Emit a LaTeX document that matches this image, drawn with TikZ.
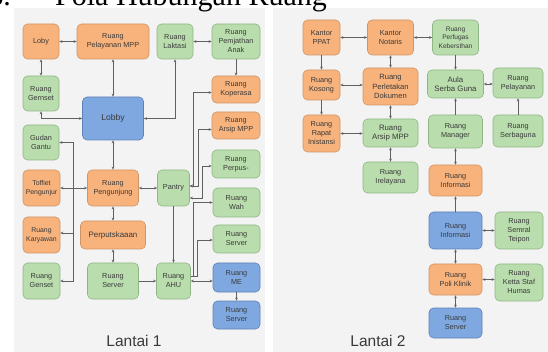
\documentclass[tikz,border=0pt]{standalone}
\usepackage{fontspec}
\setmainfont{Liberation Serif}
\newfontfamily\lsans{Liberation Sans}
\usetikzlibrary{arrows.meta}
\definecolor{orgfill}{HTML}{F8B27C}
\definecolor{orgdraw}{HTML}{CF9464}
\definecolor{grnfill}{HTML}{B9DDAD}
\definecolor{grndraw}{HTML}{8FB585}
\definecolor{blufill}{HTML}{7FA8E0}
\definecolor{bludraw}{HTML}{5F80B8}
\definecolor{panel}{HTML}{F3F3F3}
\definecolor{linec}{HTML}{606060}
\definecolor{txt}{HTML}{3A3A3A}
\tikzset{
  box/.style={rounded corners=4.5pt, line width=0.6pt, align=center, inner sep=0pt,
    font=\lsans\fontsize{7.3}{9}\selectfont, text=txt},
  org/.style={box, fill=orgfill, draw=orgdraw},
  grn/.style={box, fill=grnfill, draw=grndraw},
  blu/.style={box, fill=blufill, draw=bludraw},
  sz/.style 2 args={minimum width=#1pt, minimum height=#2pt},
  tip/.tip={Stealth[length=3pt,width=2.6pt]},
  dbl/.style={draw=linec, line width=0.55pt, {tip}-{tip}},
  sgl/.style={draw=linec, line width=0.55pt, -{tip}},
  lbl/.style={font=\lsans\fontsize{15.5}{18}\selectfont, text=txt, inner sep=0pt}
}
\begin{document}
\begin{tikzpicture}[x=1pt,y=-1pt]
\useasboundingbox (0,0) rectangle (548,352);
\clip (0,0) rectangle (548,352);
\fill[white] (0,0) rectangle (548,352);
\fill[panel] (14,8) rectangle (265,352);
\fill[panel] (273,8) rectangle (548,352);
% header
\node[anchor=base east, inner sep=0pt, font=\fontsize{30}{32}\selectfont] (hnum) at (11,6) {6.};
\node[anchor=base west, inner sep=0pt, font=\fontsize{30}{32}\selectfont] (htitle) at (55,6) {Pola Hubungan Ruang};

% ---------- Lantai 1 ----------
\node[org, sz={36}{35}] (loby) at (41,41.5) {Loby};
\node[org, sz={72}{35}] (pmpp) at (113,41.5) {Ruang\\Pelayanan MPP};
\node[grn, sz={36}{35}] (laktasi) at (175,41.5) {Ruang\\Laktasi};
\node[grn, sz={48}{35}] (anak) at (236,41.5) {Ruang\\Pemjathan\\Anak};
\node[grn, sz={36}{35}] (gernset) at (41,93.5) {Ruang\\Gernset};
\node[blu, sz={61}{43}, font=\lsans\fontsize{8.6}{10}\selectfont] (lobby) at (113,118.5) {Lobby};
\node[org, sz={48}{27}] (koperasa) at (236,89.5) {Ruang\\Koperasa};
\node[org, sz={48}{27}] (arsipL) at (236,125.5) {Ruang\\Arsip MPP};
\node[grn, sz={36}{35}] (gudan) at (41,142.5) {Gudan\\Gantu};
\node[grn, sz={48}{28}] (perpus) at (236,164) {Ruang\\Perpus-};
\node[grn, sz={32}{36}] (pantry) at (173.5,188) {Pantry};
\node[grn, sz={47}{29}] (wah) at (236.5,202.5) {Ruang\\Wah};
\node[grn, sz={47}{28}] (serverG) at (236.5,239) {Ruang\\Server};
\node[org, sz={37}{36}, font=\lsans\fontsize{6.9}{9}\selectfont] (toffiet) at (41.5,188) {Toffiet\\Pengunjur};
\node[org, sz={51}{36}] (pengunjung) at (113,188) {Ruang\\Pengunjung};
\node[org, sz={37}{36}, font=\lsans\fontsize{6.9}{9}\selectfont] (karyawan) at (41.5,235) {Ruang\\Karyawan};
\node[org, sz={65}{28}, font=\lsans\fontsize{7.9}{9}\selectfont] (perpust) at (113,235) {Perputskaaan};
\node[grn, sz={37}{36}] (genset) at (41.5,281) {Ruang\\Genset};
\node[grn, sz={51}{36}] (serverM) at (113,281) {Ruang\\Server};
\node[grn, sz={34}{36}] (ahu) at (173.5,281) {Ruang\\AHU};
\node[blu, sz={47}{29}] (me) at (236.5,277.5) {Ruang\\ME};
\node[blu, sz={47}{28}] (serverB) at (236.5,315) {Ruang\\Server};
\node[lbl] (lantai1) at (134,341) {Lantai 1};

\draw[dbl] (loby) -- (pmpp);
\draw[dbl] (loby) -- (gernset);
\draw[dbl] (laktasi) -- (anak);
\draw[sgl] (anak) -- (koperasa);
\draw[dbl] (pmpp) -- (lobby);
\draw[dbl] (laktasi.south) |- (lobby.east);
\draw[dbl] (gernset.south) |- (lobby.west);
\draw[dbl] (lobby) -- (pengunjung);
\draw[dbl] (pengunjung) -- (pantry);
\draw[dbl] (pengunjung) -- (toffiet);
\coordinate (busL) at (73,188);
\draw[sgl] (busL) |- (gudan.east);
\draw[sgl] (busL) |- ([yshift=2pt]karyawan.east);
\draw[sgl] (busL) |- (genset.east);
\draw[dbl] (pengunjung) -- (perpust);
\draw[dbl] (perpust) -- (serverM);
\draw[sgl] (serverM) -- (ahu);
\draw[sgl] (pantry) -- (ahu);
\draw[dbl] (ahu.east) -- (ahu.east -| me.west);
\draw[sgl] (me) -- (serverB);
\coordinate (pk) at ([yshift=2pt]pantry.east);
\coordinate (pp) at ([yshift=-10pt]pantry.east);
\draw[dbl] (pk) -- ++(3,0) |- ([yshift=-3pt]koperasa.west);
\draw[dbl] (pk) -- ++(8,0) |- ([yshift=-4pt]arsipL.west);
\draw[dbl] (pp) -- ++(12,0) |- ([yshift=-2pt]perpus.west);
\coordinate (ah) at ([yshift=5pt]ahu.east);
\draw[sgl] (ah) -- ++(2.5,0) |- (wah.west);
\draw[sgl] (ah) -- ++(6.5,0) |- ([yshift=-1pt]serverG.west);

% ---------- Lantai 2 ----------
\node[org, sz={37}{35}] (ppat) at (321.5,37.5) {Kantor\\PPAT};
\node[org, sz={46}{35}] (notaris) at (390.5,37.5) {Kantor\\Notaris};
\node[grn, sz={46}{35}, font=\lsans\fontsize{6.6}{8.4}\selectfont] (perfugas) at (455.5,37.5) {Ruang\\Perfugas\\Kebersthan};
\node[org, sz={37}{30}] (kosong) at (321.5,85) {Ruang\\Kosong};
\node[org, sz={55}{37}, font=\lsans\fontsize{7.6}{9.4}\selectfont] (perletakan) at (390.5,86.5) {Ruang\\Perletakan\\Dokumen};
\node[grn, sz={56}{28}, font=\lsans\fontsize{7.8}{9.4}\selectfont] (aula) at (455.5,84) {Aula\\Serba Guna};
\node[grn, sz={50}{30}] (pelayananR) at (518,83) {Ruang\\Pelayanan};
\node[org, sz={37}{37}] (rapat) at (321.5,133.5) {Ruang\\Rapat\\Inistansi};
\node[grn, sz={55}{28}, font=\lsans\fontsize{7.8}{9.4}\selectfont] (arsipR) at (390.5,133) {Ruang\\Arsip MPP};
\node[grn, sz={54}{33}] (manager) at (455.5,131.5) {Ruang\\Manager};
\node[grn, sz={50}{32}] (serbaguna) at (518,131) {Ruang\\Serbaguna};
\node[grn, sz={55}{31}] (irelayana) at (390.5,177.5) {Ruang\\Irelayana};
\node[org, sz={53}{31}] (infoO) at (455.5,180.5) {Ruang\\Informasi};
\node[blu, sz={53}{37}] (infoB) at (455.5,230.5) {Ruang\\Informasi};
\node[grn, sz={48}{37}] (semral) at (519,230.5) {Ruang\\Semral\\Teipon};
\node[org, sz={53}{31}] (poli) at (455.5,279.5) {Ruang\\Poli Klinik};
\node[grn, sz={48}{37}] (ketta) at (519,282.5) {Ruang\\Ketta Staf\\Humas};
\node[blu, sz={53}{30}] (serverR) at (455.5,323) {Ruang\\Server};
\node[lbl] (lantai2) at (378,341) {Lantai 2};

\draw[dbl] (ppat) -- (notaris);
\draw[dbl] (notaris) -- (perfugas);
\draw[sgl] (ppat) -- (kosong);
\draw[dbl] (notaris) -- (perletakan);
\draw[dbl] (kosong.east) -- (kosong.east -| perletakan.west);
\draw[sgl] (perfugas) -- (aula);
\draw[dbl] (aula.east) -- (aula.east -| pelayananR.west);
\draw[sgl] (kosong) -- (rapat);
\draw[dbl] (perletakan) -- (arsipR);
\draw[dbl] (rapat.east) -- (rapat.east -| arsipR.west);
\draw[sgl] (manager) -- (aula);
\draw[sgl] (serbaguna) -- (pelayananR);
\draw[dbl] (arsipR) -- (irelayana);
\draw[dbl] (manager) -- (infoO);
\draw[sgl] (infoB) -- (infoO);
\draw[dbl] (infoB) -- (semral);
\draw[dbl] (infoB) -- (poli);
\draw[dbl] (poli.east) -- (poli.east -| ketta.west);
\draw[dbl] (poli) -- (serverR);
\end{tikzpicture}
\end{document}
